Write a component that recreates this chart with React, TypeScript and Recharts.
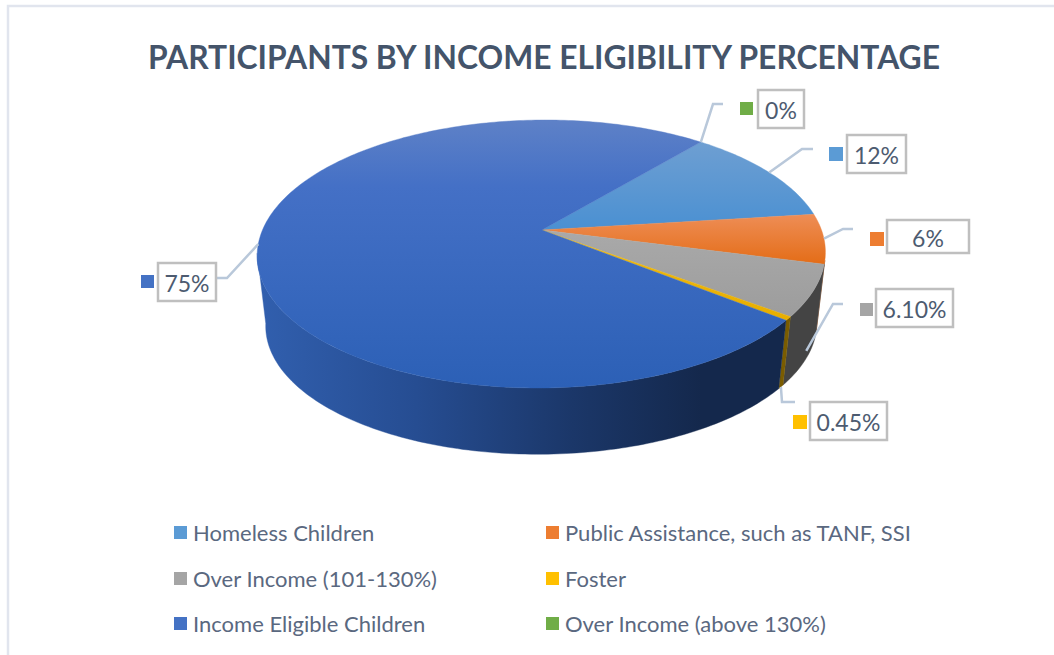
import React from 'react';
import { PieChart, Pie, Legend } from 'recharts';

const sliceNames = [
  'Homeless Children',
  'Public Assistance, such as TANF, SSI',
  'Over Income (101-130%)',
  'Foster',
  'Income Eligible Children',
  'Over Income (above 130%)',
];
const sliceValues = [12, 6, 6.1, 0.45, 75, 0];
const sliceLabels = ['12%', '6%', '6.10%', '0.45%', '75%', '0%'];
const sliceColors = ['#5b9bd5', '#ed7d31', '#a5a5a5', '#ffc000', '#4472c4', '#70ad47'];

// Face gradients: [offset, colour] stops and the vertical span each one covers
const faceStops = [
  [[0, '#6f9fd2'], [1, '#4a90d2']],
  [[0, '#ee8d55'], [1, '#e36a12']],
  [[0, '#a9a9a9'], [1, '#9c9c9c']],
  [[0, '#f0bb10'], [1, '#e8ae00']],
  [[0, '#5e81c7'], [0.25, '#4470c6'], [1, '#2c60b6']],
  [[0, '#70ad47'], [1, '#70ad47']],
];
const faceSpans = [
  [140, 230],
  [215, 268],
  [230, 320],
  [230, 320],
  [120, 388],
  [120, 388],
];
const wallColors = ['#2f5f9a', '#8c4a1c', '#444444', '#7a5c00', 'url(#wall-blue)', '#43682b'];

const TITLE = 'PARTICIPANTS BY INCOME ELIGIBILITY PERCENTAGE';
const TEXT_COLOR = '#4d5b70';
const FONT = 'Lato, "Open Sans", sans-serif';

// Projected disc: a circle seen in perspective, so the hub sits above the ellipse centre
const HUB_X = 542;
const HUB_Y = 230;
const SPREAD_X = 279.5;
const SPREAD_Y = 129.7;
const TILT = 0.179;
const SHEAR = -0.03;
const WALL_DROP = 71;
const WALL_SHRINK = 0.97;
const START_ANGLE = 50.5;

function project(screenDeg: number, depth = 0) {
  const t = (screenDeg * Math.PI) / 180;
  const u = Math.cos(t);
  const v = Math.sin(t);
  const w = 1 - TILT * v;
  const dy = (SPREAD_Y * v) / w;
  const dx = (SPREAD_X * u) / w + SHEAR * dy;
  const scale = 1 + (WALL_SHRINK - 1) * depth;
  return { x: HUB_X + dx * scale, y: HUB_Y + WALL_DROP * depth + dy * scale };
}

function arcPoints(from: number, to: number, depth: number) {
  const steps = Math.max(1, Math.ceil(Math.abs(to - from)));
  const pts: string[] = [];
  for (let i = 0; i <= steps; i++) {
    const p = project(from + ((to - from) * i) / steps, depth);
    pts.push(`${p.x.toFixed(2)} ${p.y.toFixed(2)}`);
  }
  return pts;
}

const faceTable = sliceNames.map((name, i) => ({
  name,
  value: sliceValues[i],
  fill: `url(#face-${i})`,
}));
const wallTable = sliceNames.map((name, i) => ({
  name,
  value: sliceValues[i],
  fill: wallColors[i],
}));

const FaceSector = (props: any) => {
  const from = -props.startAngle;
  const to = -props.endAngle;
  if (Math.abs(to - from) < 0.01) return null;
  const d = `M${HUB_X} ${HUB_Y} L${arcPoints(from, to, 0).join(' L')} Z`;
  return <path d={d} fill={props.fill} stroke={props.fill} strokeWidth={0.4} />;
};

// Only the front of the rim is visible, between the two silhouette tangents
const WALL_FROM = 13;
const WALL_TO = 170;

const WallSector = (props: any) => {
  const from = Math.max(-props.startAngle, WALL_FROM);
  const to = Math.min(-props.endAngle, WALL_TO);
  if (to - from <= 0) return null;
  const top = arcPoints(from, to, 0);
  const bottom = arcPoints(to, from, 1);
  const d = `M${top.join(' L')} L${bottom.join(' L')} Z`;
  return <path d={d} fill={props.fill} stroke={props.fill} strokeWidth={0.4} />;
};

// Callout layout per slice: box, marker square, leader elbow, leader end on the rim
const calloutLayout = [
  { box: [847, 135, 59, 38], marker: [829, 147, 14], elbow: [802, 149], end: [813, 149], depth: 0 },
  { box: [887, 220, 82, 33], marker: [870, 232, 14], elbow: [843, 229], end: [853, 229], depth: 0 },
  { box: [876, 289, 77, 38], marker: [860, 303, 13], elbow: [833, 304], end: [843, 304], depth: 0.87 },
  { box: [810, 402, 77, 38], marker: [793, 415, 14], elbow: [782, 402], end: [795, 402], depth: 1 },
  { box: [158, 263, 58, 38], marker: [141, 275, 13], elbow: [227, 278], end: [216, 278], depth: 0 },
  { box: [758, 90, 46, 38], marker: [740, 102, 13], elbow: [713, 104], end: [723, 104], depth: 0 },
];

const renderCallout = (props: any) => {
  const { index, midAngle } = props;
  const layout = calloutLayout[index];
  const [bx, by, bw, bh] = layout.box;
  const [mx, my, ms] = layout.marker;
  const start = project(-midAngle, layout.depth);
  return (
    <g key={index}>
      <polyline
        points={`${start.x},${start.y} ${layout.elbow.join(',')} ${layout.end.join(',')}`}
        fill="none"
        stroke="#b9c8da"
        strokeWidth={2.5}
      />
      <rect x={mx} y={my} width={ms} height={ms} fill={sliceColors[index]} />
      <rect x={bx} y={by} width={bw} height={bh} fill="#ffffff" stroke="#bfbfbf" strokeWidth={2.5} />
      <text
        x={bx + bw / 2}
        y={by + bh / 2 + 1}
        textAnchor="middle"
        dominantBaseline="central"
        fontFamily={FONT}
        fontSize={23}
        fill={TEXT_COLOR}
      >
        {sliceLabels[index]}
      </text>
    </g>
  );
};

const LegendGrid = () => (
  <div
    style={{
      display: 'grid',
      gridTemplateColumns: '372px 372px',
      gridAutoRows: '45.5px',
      fontFamily: FONT,
      fontSize: 22,
      color: '#5a6880',
    }}
  >
    {sliceNames.map((name, i) => (
      <div key={name} style={{ display: 'flex', alignItems: 'center', whiteSpace: 'nowrap' }}>
        <span
          style={{ width: 13, height: 13, marginRight: 6, background: sliceColors[i], flex: 'none' }}
        />
        {name}
      </div>
    ))}
  </div>
);

export default function App() {
  return (
    <div style={{ position: 'absolute', left: 0, top: 0, width: 1054, height: 655, background: '#ffffff' }}>
      <PieChart width={1054} height={655} margin={{ top: 0, right: 0, bottom: 0, left: 0 }}>
        <defs>
          {faceStops.map((stops, i) => (
            <linearGradient
              key={i}
              id={`face-${i}`}
              gradientUnits="userSpaceOnUse"
              x1="0"
              y1={faceSpans[i][0]}
              x2="0"
              y2={faceSpans[i][1]}
            >
              {stops.map(([offset, color]) => (
                <stop key={offset} offset={offset} stopColor={color as string} />
              ))}
            </linearGradient>
          ))}
          <linearGradient id="wall-blue" gradientUnits="userSpaceOnUse" x1="260" y1="0" x2="780" y2="0">
            <stop offset="0" stopColor="#315fae" />
            <stop offset="0.3" stopColor="#264d92" />
            <stop offset="0.6" stopColor="#1b3769" />
            <stop offset="0.85" stopColor="#14284c" />
            <stop offset="1" stopColor="#14284c" />
          </linearGradient>
        </defs>
        <path d="M8 655 L8 6 L1054 6" fill="none" stroke="#e1e5ee" strokeWidth={2.5} />
        <text
          x={544}
          y={69}
          textAnchor="middle"
          fontFamily={FONT}
          fontWeight={700}
          fontSize={31.8}
          fill="#44546a"
        >
          {TITLE}
        </text>
        <Pie
          data={wallTable}
          dataKey="value"
          nameKey="name"
          cx={HUB_X}
          cy={HUB_Y}
          outerRadius={130}
          startAngle={START_ANGLE}
          endAngle={START_ANGLE - 360}
          legendType="none"
          shape={WallSector}
          inactiveShape={WallSector}
          isAnimationActive={false}
          stroke="none"
        />
        <Pie
          data={faceTable}
          dataKey="value"
          nameKey="name"
          cx={HUB_X}
          cy={HUB_Y}
          outerRadius={130}
          startAngle={START_ANGLE}
          endAngle={START_ANGLE - 360}
          shape={FaceSector}
          inactiveShape={FaceSector}
          label={renderCallout}
          labelLine={false}
          isAnimationActive={false}
          stroke="none"
        />
        <Legend
          content={<LegendGrid />}
          wrapperStyle={{ left: 174, top: 510, bottom: 'auto', width: 760 }}
        />
      </PieChart>
    </div>
  );
}
